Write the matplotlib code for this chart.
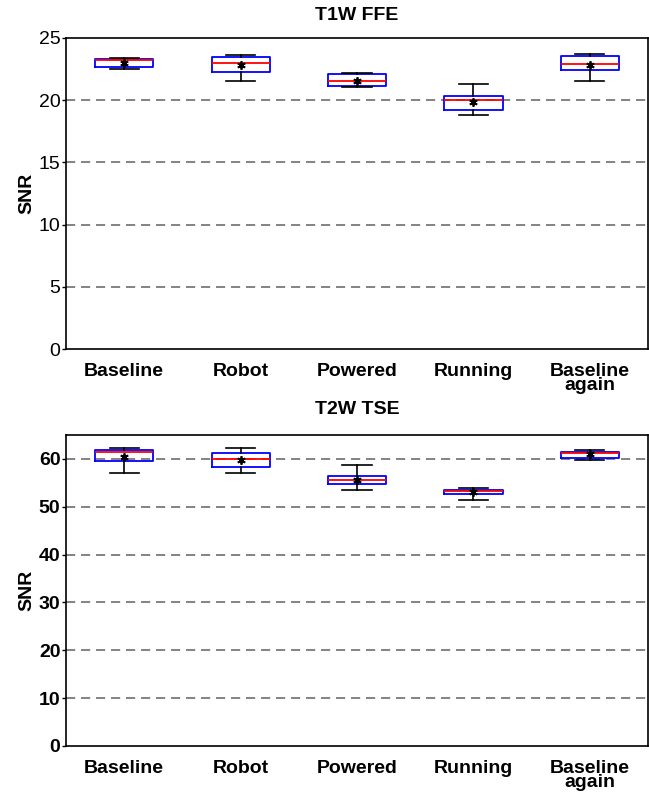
import matplotlib
matplotlib.use("Agg")
import matplotlib.pyplot as plt

plt.rcParams['font.family'] = ['Liberation Sans', 'DejaVu Sans']

categories = ["Baseline", "Robot", "Powered", "Running", "Baseline\nagain"]

# T1W FFE
t1_q1 = [22.69, 22.27, 21.14, 19.24, 22.40]
t1_q3 = [23.31, 23.45, 22.08, 20.31, 23.55]
t1_med = [23.23, 22.99, 21.57, 19.99, 22.93]
t1_lo = [22.48, 21.57, 21.06, 18.79, 21.54]
t1_hi = [23.42, 23.63, 22.16, 21.30, 23.74]
t1_mean = [23.01, 22.80, 21.57, 19.88, 22.85]

# T2W TSE
t2_q1 = [59.48, 58.37, 54.81, 52.57, 60.10]
t2_q3 = [61.85, 61.15, 56.34, 53.49, 61.50]
t2_med = [61.44, 59.98, 55.50, 53.28, 61.30]
t2_lo = [57.10, 57.10, 53.41, 51.40, 59.83]
t2_hi = [62.20, 62.28, 58.72, 53.83, 61.78]
t2_mean = [60.50, 59.70, 55.65, 52.99, 60.94]

titles = ["T1W FFE", "T2W TSE"]
ylims = [(0, 25), (0, 65)]
yticks = [[0, 5, 10, 15, 20, 25], [0, 10, 20, 30, 40, 50, 60]]

fig = plt.figure(figsize=(6.49, 7.94), dpi=100)
W, H = 649, 794
def rect(l, t, r, b):
    return [l / W, 1 - b / H, (r - l) / W, (b - t) / H]

axes = [fig.add_axes(rect(66, 38, 648, 349)), fig.add_axes(rect(66, 435, 648, 746))]
data = [(t1_q1, t1_q3, t1_med, t1_lo, t1_hi, t1_mean),
        (t2_q1, t2_q3, t2_med, t2_lo, t2_hi, t2_mean)]

for i, ax in enumerate(axes):
    q1, q3, med, lo, hi, mn = data[i]
    stats = []
    for k in range(len(categories)):
        stats.append(dict(q1=q1[k], q3=q3[k], med=med[k], whislo=lo[k],
                          whishi=hi[k], mean=mn[k], fliers=[]))
    ax.bxp(stats, positions=range(1, 6), widths=0.5, showmeans=True,
           showfliers=False, patch_artist=False,
           boxprops=dict(color='blue', linewidth=1.3),
           medianprops=dict(color='red', linewidth=1.3),
           whiskerprops=dict(color='black', linewidth=1.2),
           capprops=dict(color='black', linewidth=1.2),
           capwidths=0.25,
           meanprops=dict(marker=(6, 2, 0), markerfacecolor='black',
                          markeredgecolor='black', markersize=6,
                          markeredgewidth=1.3))
    ax.set_xlim(0.5, 5.5)
    ax.set_ylim(*ylims[i])
    ax.set_yticks(yticks[i])
    ax.set_xticks(range(1, 6))
    ax.set_xticklabels(categories, fontsize=14, fontweight='bold',
                       linespacing=0.75)
    ax.tick_params(axis='x', length=0, pad=10)
    ax.tick_params(axis='y', length=3, direction='out', pad=1, labelsize=14,
                   width=1)
    if i == 1:
        for lab in ax.get_yticklabels():
            lab.set_fontweight('bold')
    for t in yticks[i][1:]:
        if t < ylims[i][1]:
            ax.axhline(t, color='#6e6e6e', linestyle=(0, (5.5, 3.5)),
                       linewidth=1.2, zorder=0.5)
    for s in ax.spines.values():
        s.set_linewidth(1.2)
    ax.set_ylabel("SNR", fontsize=14, fontweight='bold')
    ax.yaxis.set_label_coords(-0.052, 0.5)

fig.text(357 / W, 1 - 16 / H, titles[0], ha='center', va='center',
         fontsize=14, fontweight='bold')
fig.text(357 / W, 1 - 410 / H, titles[1], ha='center', va='center',
         fontsize=14, fontweight='bold')

fig.savefig("out.png", dpi=100)
